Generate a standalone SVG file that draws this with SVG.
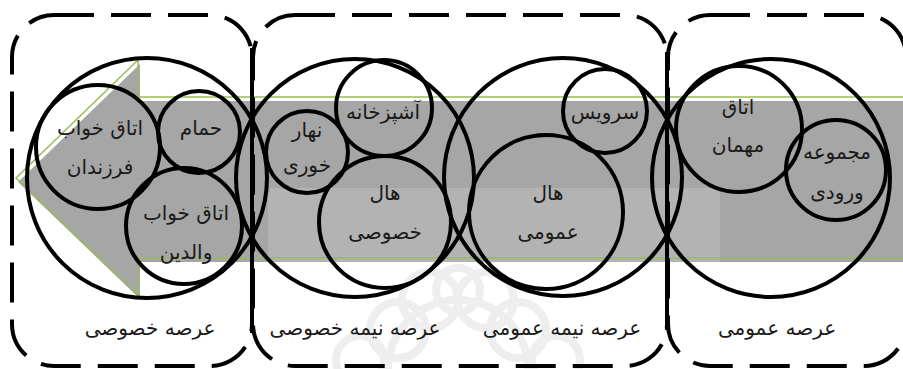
<svg xmlns="http://www.w3.org/2000/svg" width="903" height="369" viewBox="0 0 903 369">
  <style>
    .zone { fill: none; stroke: #000; stroke-width: 4; stroke-dasharray: 40 17; }
    .seam { fill: none; stroke: #000; stroke-width: 4; }
    .ring { fill: none; stroke: #000; stroke-width: 4; }
    .lbl { font-family: "DejaVu Sans", "Noto Sans", sans-serif; font-size: 20px; fill: #1a1a1a; text-anchor: middle; direction: rtl; }
    .wm { fill: none; stroke: #eeeeee; stroke-width: 8; }
  </style>

  <rect x="0" y="0" width="903" height="369" fill="#fff"/>

  <!-- faint rosette emblem in the background -->
  <g id="emblem">
    <circle class="wm" cx="458" cy="370" r="70"/>
    <circle class="wm" cx="398" cy="330" r="28"/>
    <circle class="wm" cx="430" cy="300" r="28"/>
    <circle class="wm" cx="486" cy="300" r="28"/>
    <circle class="wm" cx="518" cy="330" r="28"/>
    <circle class="wm" cx="458" cy="290" r="22"/>
    <circle class="wm" cx="360" cy="360" r="24"/>
    <circle class="wm" cx="556" cy="360" r="24"/>
  </g>

  <!-- direction arrow band -->
  <g id="arrow">
    <path d="M903,101 H140 V64 L18,182 L140,299 V262 H903 Z" fill="#a6a6a6"/>
    <rect x="268" y="188" width="452" height="74" fill="#b3b3b3"/>
    <path d="M903,97 H138 V60 L16,178 L138,295 V258 H903" fill="none" stroke="#9bbb59" stroke-width="1.5"/>
  </g>

  <!-- dashed zone frames -->
  <g id="zones">
    <rect class="zone" x="12" y="15" width="240" height="351" rx="42" ry="42"/>
    <rect class="zone" x="253" y="15" width="414" height="351" rx="42" ry="42"/>
    <rect class="zone" x="668" y="15" width="238" height="351" rx="42" ry="42"/>
    <path class="seam" d="M252,48 V333"/>
    <path class="seam" d="M667,52 V330"/>
  </g>

  <!-- private zone -->
  <g id="zone-private">
    <circle class="ring" cx="147" cy="178" r="120"/>
    <text class="lbl" x="150" y="335">عرصه خصوصی</text>
  </g>
  <g id="child-bedroom">
    <circle class="ring" cx="98" cy="147" r="62"/>
    <text class="lbl" x="100" y="135">اتاق خواب</text>
    <text class="lbl" x="100" y="174">فرزندان</text>
  </g>
  <g id="bathroom">
    <circle class="ring" cx="199" cy="132" r="41"/>
    <text class="lbl" x="201" y="135">حمام</text>
  </g>
  <g id="parents-bedroom">
    <circle class="ring" cx="184" cy="226" r="58"/>
    <text class="lbl" x="186" y="220">اتاق خواب</text>
    <text class="lbl" x="186" y="259">والدین</text>
  </g>

  <!-- semi-private zone -->
  <g id="zone-semi-private">
    <circle class="ring" cx="355" cy="178" r="119"/>
    <text class="lbl" x="355" y="335">عرصه نیمه خصوصی</text>
  </g>
  <g id="kitchen">
    <circle class="ring" cx="384" cy="108" r="48"/>
    <text class="lbl" x="383" y="119">آشپزخانه</text>
  </g>
  <g id="dining">
    <circle class="ring" cx="307" cy="152" r="41"/>
    <text class="lbl" x="307" y="137">نهار</text>
    <text class="lbl" x="307" y="172">خوری</text>
  </g>
  <g id="private-hall">
    <circle class="ring" cx="385" cy="222" r="66"/>
    <text class="lbl" x="385" y="200">هال</text>
    <text class="lbl" x="385" y="239">خصوصی</text>
  </g>

  <!-- semi-public zone -->
  <g id="zone-semi-public">
    <circle class="ring" cx="563" cy="177" r="119"/>
    <text class="lbl" x="562" y="335">عرصه نیمه عمومی</text>
  </g>
  <g id="wc">
    <circle class="ring" cx="605" cy="111" r="42"/>
    <text class="lbl" x="605" y="119">سرویس</text>
  </g>
  <g id="public-hall">
    <circle class="ring" cx="546" cy="212" r="77"/>
    <text class="lbl" x="548" y="200">هال</text>
    <text class="lbl" x="548" y="239">عمومی</text>
  </g>

  <!-- public zone -->
  <g id="zone-public">
    <circle class="ring" cx="771" cy="178" r="119"/>
    <text class="lbl" x="777" y="335">عرصه عمومی</text>
  </g>
  <g id="guest-room">
    <circle class="ring" cx="739" cy="129" r="63"/>
    <text class="lbl" x="738" y="114">اتاق</text>
    <text class="lbl" x="738" y="152">مهمان</text>
  </g>
  <g id="entrance">
    <circle class="ring" cx="836" cy="170" r="50"/>
    <text class="lbl" x="837" y="159">مجموعه</text>
    <text class="lbl" x="837" y="199">ورودی</text>
  </g>
</svg>
